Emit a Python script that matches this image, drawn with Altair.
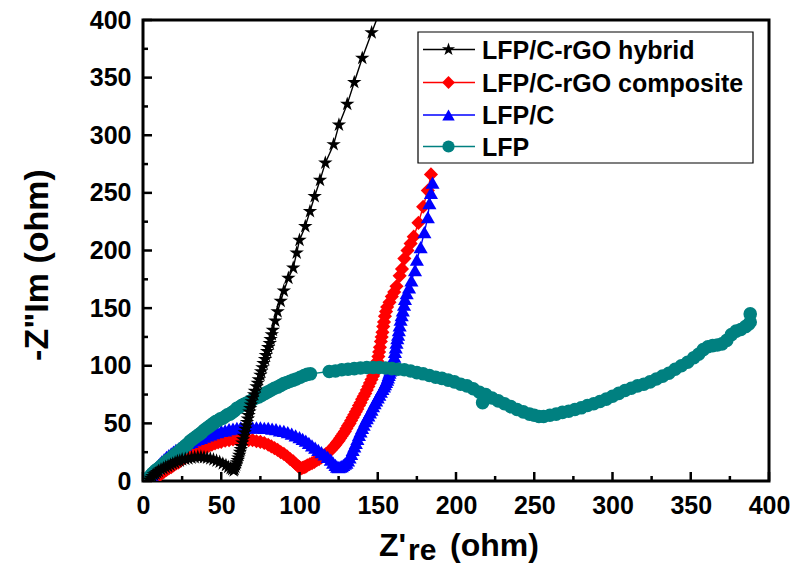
import altair as alt
import pandas as pd

# Nyquist plots: Z'_re (ohm) against -Z''_Im (ohm)
hyb_x = [4, 5, 6, 7, 8, 9, 10, 11.5, 13, 14.5,
         16, 17.5, 19, 20.5, 22, 23.5, 25, 27, 29, 31,
         33, 35, 37, 39, 41, 43, 45, 47, 49, 51,
         53, 54.5, 56, 57, 58,
         58.5, 59, 59.5, 60, 60.5, 61, 61.5, 62, 62.5, 63,
         63.5, 64, 64.5, 65, 65.5, 66, 66.5, 67, 67.5, 68,
         68.5, 69, 69.5, 70, 71, 71.5, 72.6, 73.3, 74, 75,
         75.5, 76.3, 77, 78, 78.5, 79.3, 80, 81, 81.5, 82.3,
         83, 84.5, 86, 88, 90, 92.9, 96, 98.2, 100, 103.7,
         106.7, 109.7, 113.1, 116.5, 121.8, 125.2, 130.5, 135, 140.1, 146.1,
         152]
hyb_y = [1, 2.5, 4, 5.5, 6.5, 7.5, 8.5, 10, 11, 12,
         13, 14, 15, 16, 17, 17.5, 18.5, 19, 19.5, 20,
         20.5, 21, 21, 20.5, 20, 19.5, 18.5, 17.5, 16.5, 15,
         13.5, 12, 11, 10, 9,
         10, 12, 14, 16, 18, 20, 22.5, 25, 27.5, 30,
         33, 36, 39, 42, 45, 48, 51, 54, 57, 60,
         63, 66, 69, 72, 75, 78, 82, 85, 88, 92,
         95, 98.5, 102, 105.5, 109, 112.5, 116, 119.5, 123, 127,
         131, 139, 147, 156, 165, 176, 185, 198, 209, 221,
         234, 247, 261, 276, 292, 309, 327, 346, 367, 389,
         410]

comp_x = [6, 7, 8, 9, 10, 11, 12, 13.5, 15, 16.5,
          18, 19.5, 21, 22.5, 24, 26, 28, 30, 32, 34,
          36, 38, 40, 42, 44, 46, 48, 50, 52.5, 55,
          57.5, 60, 62.5, 65, 67.5, 70, 72.5, 75, 77.5, 80,
          82, 84, 86, 88, 90, 92, 94, 96, 97.5, 99,
          100, 101,
          102, 103, 104, 105, 106.5, 108, 109.5, 111, 112.5, 114,
          115.5, 117, 118.5, 120, 121, 122, 123, 124, 125, 126,
          127, 128, 129, 130, 131, 132, 133, 134, 135, 136,
          137, 138, 139, 140, 141, 142, 143, 144, 145, 146,
          147, 148, 148.7, 149.3, 149.8, 150.4, 150.9, 151.4, 152, 152.5,
          153, 153.5, 154, 154.6, 155.3, 156, 157.5, 159, 160.5, 162,
          164, 165.5, 167, 169, 171, 173, 176, 179, 182, 184]
comp_y = [0.5, 1.5, 2.5, 3.5, 4.5, 5.5, 6.5, 8, 9.5, 11,
          12, 13.5, 15, 16, 17.5, 19.5, 21, 22.5, 24, 25.5,
          27, 28, 29.5, 30.5, 31.5, 32.5, 33.5, 34, 35, 35.5,
          36, 36, 36, 36, 35.5, 35.5, 34.5, 34, 33, 31.5,
          30, 28.5, 27, 25, 23.5, 21.5, 19, 17, 15, 13,
          12, 11,
          11.5, 12, 12.5, 13.5, 14.5, 15.5, 16.5, 18, 19, 20.5,
          22, 23.5, 25, 27, 28.5, 30, 31.5, 33.5, 35, 37,
          39, 41, 43, 45.5, 48, 50, 52.5, 55, 57.5, 60,
          62.5, 65.5, 68, 71, 73.5, 76, 79, 82, 85, 88,
          91, 94, 97, 100, 104, 108, 112, 116, 121, 125,
          129, 134, 138, 143, 147, 151, 155, 160, 164, 169,
          178, 184, 193, 200, 206, 212, 224, 238, 252, 266]

lfpc_x = [4, 4.5, 5, 5.5, 6, 7, 8, 9, 10, 11,
          12, 13.5, 15, 16.5, 18, 19.5, 21, 23, 25, 27,
          29, 31, 33, 35, 37, 39, 41, 43, 45, 47.5,
          50, 52.5, 55, 57.5, 60, 62.5, 65, 67.5, 70, 72.5,
          75, 77.5, 80, 82.5, 85, 87.5, 90, 92.5, 95, 97.5,
          100, 102, 104, 106, 108, 110, 112, 114, 116, 118,
          120, 121.5, 123, 124,
          125, 126, 127, 128, 129, 130, 131, 132, 133, 134,
          135, 136, 137, 138, 139, 140, 141, 142, 143, 144,
          145, 146, 147, 148, 149, 150, 151, 152, 153, 154,
          154.6, 155.3, 156, 156.5, 157, 157.5, 158, 158.5, 159, 159.5,
          160, 160.6, 161, 161.5, 162, 162.5, 163, 163.5, 164, 164.6,
          165.3, 166, 166.8, 167.4, 168.5, 170, 171.5, 173.8, 175, 177.4,
          179.8, 182, 183, 184, 185]
lfpc_y = [1, 2.5, 4, 5.5, 7, 9, 11, 12.5, 14, 15.5,
          17, 19, 21, 22.5, 24, 25.5, 27, 28.5, 30, 31.5,
          33, 34, 35.5, 36.5, 37.5, 38.5, 39.5, 40.5, 41.5, 42.5,
          43.5, 44, 45, 45.5, 46, 46.5, 46.5, 46.5, 46.5, 46.5,
          46.5, 46, 46, 45.5, 45, 44, 43.5, 42.5, 41, 39.5,
          38, 36.5, 35, 33, 31, 29, 27, 25, 23, 21,
          18.5, 16, 14, 12.5,
          12, 12.5, 13, 14, 15, 16, 18, 20.5, 23.5, 27,
          30, 33, 36.5, 40, 43, 46, 49, 52, 54.5, 57,
          59.5, 62, 65, 67.5, 70, 72.5, 75, 77.5, 80, 82,
          84, 86, 88, 90, 92, 94, 96, 98, 100, 102.5,
          105, 108, 112, 116, 120, 124, 127, 131, 135, 140,
          144, 148, 153, 158, 163, 168, 174, 183, 192, 203,
          216, 229, 241, 250, 259]

lfp_x = [2.5, 3, 3.5, 4, 5, 6, 7, 8, 9, 10,
         11, 12, 13, 14, 15, 16.5, 18, 19.5, 21, 22.5,
         24, 25.5, 27, 28.5, 30, 31.5, 33, 34.5, 36, 37.5,
         39, 40.5, 42, 43.5, 45, 46.5, 48, 49.5, 51, 52.5,
         54, 55.5, 57, 58.5, 60, 61.5, 63, 64.5, 66, 68,
         70, 72, 74, 76, 78, 80, 82, 84, 86, 88,
         90, 92, 94, 96, 98, 100.5, 103, 105, 107,
         119, 123, 127, 131, 135, 139, 143, 147, 151, 155,
         159, 163, 167, 171, 175, 179, 183, 187, 191, 195,
         199, 203, 207, 211, 215, 217, 219, 223, 227, 231,
         235, 239, 243, 247, 250, 253, 256, 260, 264, 268,
         272, 276, 280, 284, 288, 292, 296, 300, 304, 308,
         312, 316, 320, 324, 328, 332, 336, 340, 344, 348,
         352, 355, 358, 361, 364, 367, 370, 373, 376, 379,
         382, 385, 387, 388, 388]
lfp_y = [0.5, 1.5, 2, 3, 5, 6.5, 7.5, 9, 10, 11,
         12, 13.5, 14.5, 15.5, 17, 18.5, 20, 22, 23.5, 25,
         27, 28.5, 30.5, 32, 34.5, 36, 37.5, 39, 40.5, 42,
         44, 45.5, 47, 48.5, 50, 51.5, 52.5, 54, 54.5, 56,
         57.5, 58, 59.5, 61, 63, 64, 65.5, 66.5, 67.5, 69,
         70.5, 72, 73, 74.5, 76, 77.5, 79, 80.5, 81.5, 83,
         84.5, 85.5, 86.5, 87.5, 88.5, 90, 91.5, 92.5, 93,
         95, 95.5, 96.5, 97, 97.5, 98, 98.5, 98.5, 98.5, 98,
         97.5, 97, 96.5, 95.5, 94, 93, 91.5, 90, 89, 87.5,
         86, 84, 82.5, 80, 77, 68, 75, 72, 69.5, 67,
         64.5, 62, 60, 58, 57, 56, 56, 57, 58, 59.5,
         60.5, 62, 63.5, 65.5, 67, 69, 71, 73.5, 76, 78.5,
         80.5, 82.5, 84, 86, 88.5, 91, 93.5, 97, 100, 103,
         107, 110, 114, 116.5, 117.5, 118, 119, 122, 127, 130,
         131.5, 134, 136, 138, 145]

series_names = ["LFP/C-rGO hybrid", "LFP/C-rGO composite", "LFP/C", "LFP"]
major_ticks = [0, 50, 100, 150, 200, 250, 300, 350, 400]
minor_ticks = [25, 75, 125, 175, 225, 275, 325, 375]

STAR = ("M0,-1L0.2245,-0.309L0.951,-0.309L0.363,0.118L0.588,0.809L0,0.382"
        "L-0.588,0.809L-0.363,0.118L-0.951,-0.309L-0.2245,-0.309Z")

styles = {
    "LFP/C-rGO hybrid": dict(color="#000000", shape=STAR, size=230),
    "LFP/C-rGO composite": dict(color="#ff0000", shape="diamond", size=200),
    "LFP/C": dict(color="#0000ff", shape="triangle-up", size=200),
    "LFP": dict(color="#008080", shape="circle", size=185),
}
curves = {
    "LFP/C-rGO hybrid": (hyb_x, hyb_y),
    "LFP/C-rGO composite": (comp_x, comp_y),
    "LFP/C": (lfpc_x, lfpc_y),
    "LFP": (lfp_x, lfp_y),
}

W, H = 626, 461
FONT = "Liberation Sans"

xscale = alt.Scale(domain=[0, 400], nice=False, zero=False)
yscale = alt.Scale(domain=[0, 400], nice=False, zero=False)
common_axis = dict(title="", grid=False, domain=False, ticks=False, tickSize=0,
                   labelPadding=12, labelFont=FONT, labelFontSize=25,
                   labelFontWeight="bold", labelColor="black", labelOverlap=False)
X = alt.X("x:Q", scale=xscale, axis=alt.Axis(values=major_ticks, labelFlush=False, **common_axis))
Y = alt.Y("y:Q", scale=yscale, axis=alt.Axis(values=major_ticks, **common_axis))

layers = []

# data series (drawn so that the hybrid sits on top)
for name in ["LFP/C-rGO composite", "LFP/C", "LFP", "LFP/C-rGO hybrid"]:
    xs, ys = curves[name]
    st = styles[name]
    df = pd.DataFrame({"x": xs, "y": ys, "i": list(range(len(xs)))})
    base = alt.Chart(df)
    layers.append(base.mark_line(color=st["color"], strokeWidth=1.4, clip=True)
                  .encode(x=X, y=Y, order="i:Q"))
    layers.append(base.mark_point(shape=st["shape"], size=st["size"], filled=True,
                                  color=st["color"], opacity=1, clip=True)
                  .encode(x=X, y=Y))

# inward ticks on the bottom and left axes
layers.append(alt.Chart(pd.DataFrame({"x": major_ticks})).mark_rule(color="black", strokeWidth=2.5)
              .encode(x=X, y=alt.value(H), y2=alt.value(H - 9)))
layers.append(alt.Chart(pd.DataFrame({"x": minor_ticks})).mark_rule(color="black", strokeWidth=2.5)
              .encode(x=X, y=alt.value(H), y2=alt.value(H - 5)))
layers.append(alt.Chart(pd.DataFrame({"y": major_ticks})).mark_rule(color="black", strokeWidth=2.5)
              .encode(y=Y, x=alt.value(0), x2=alt.value(9)))
layers.append(alt.Chart(pd.DataFrame({"y": minor_ticks})).mark_rule(color="black", strokeWidth=2.5)
              .encode(y=Y, x=alt.value(0), x2=alt.value(5)))

one = pd.DataFrame({"k": [0]})

# legend box with line + marker samples
layers.append(alt.Chart(one).mark_rect(fill="white", stroke="black", strokeWidth=1.2)
              .encode(x=alt.value(275), x2=alt.value(610), y=alt.value(12), y2=alt.value(143)))
row_y = [29.5, 62.5, 95, 126.5]
legend_sizes = [190, 165, 155, 150]
for name, ry, lsz in zip(series_names, row_y, legend_sizes):
    st = styles[name]
    layers.append(alt.Chart(one).mark_rule(color=st["color"], strokeWidth=1.6)
                  .encode(x=alt.value(280), x2=alt.value(332), y=alt.value(ry)))
    layers.append(alt.Chart(one).mark_point(shape=st["shape"], size=lsz, filled=True,
                                            color=st["color"], opacity=1)
                  .encode(x=alt.value(305.5), y=alt.value(ry)))
    layers.append(alt.Chart(one).mark_text(text=name, align="left", baseline="middle", font=FONT,
                                           fontSize=25, fontWeight="bold", color="black")
                  .encode(x=alt.value(339), y=alt.value(ry + 1)))

# axis titles
layers.append(alt.Chart(one).mark_text(text='-Z"Im (ohm)', angle=270, align="center", baseline="middle",
                                       font=FONT, fontSize=34, fontWeight="bold", color="black")
              .encode(x=alt.value(38 - 143), y=alt.value(265 - 20)))
layers.append(alt.Chart(one).mark_text(text="Z'", align="left", baseline="alphabetic",
                                       font=FONT, fontSize=32, fontWeight="bold", color="black")
              .encode(x=alt.value(236), y=alt.value(536)))
layers.append(alt.Chart(one).mark_text(text="re", align="left", baseline="alphabetic",
                                       font=FONT, fontSize=30, fontWeight="bold", color="black")
              .encode(x=alt.value(265), y=alt.value(540)))
layers.append(alt.Chart(one).mark_text(text="(ohm)", align="left", baseline="alphabetic",
                                       font=FONT, fontSize=32, fontWeight="bold", color="black")
              .encode(x=alt.value(307), y=alt.value(536)))

chart = alt.layer(*layers).properties(
    width=W, height=H,
    autosize=alt.AutoSizeParams(type="none"),
    padding={"left": 143, "top": 20, "right": 35, "bottom": 86},
    background="white",
).configure_view(stroke="black", strokeWidth=3)

chart.save("out.html", embed_options={"renderer": "svg", "actions": False})
